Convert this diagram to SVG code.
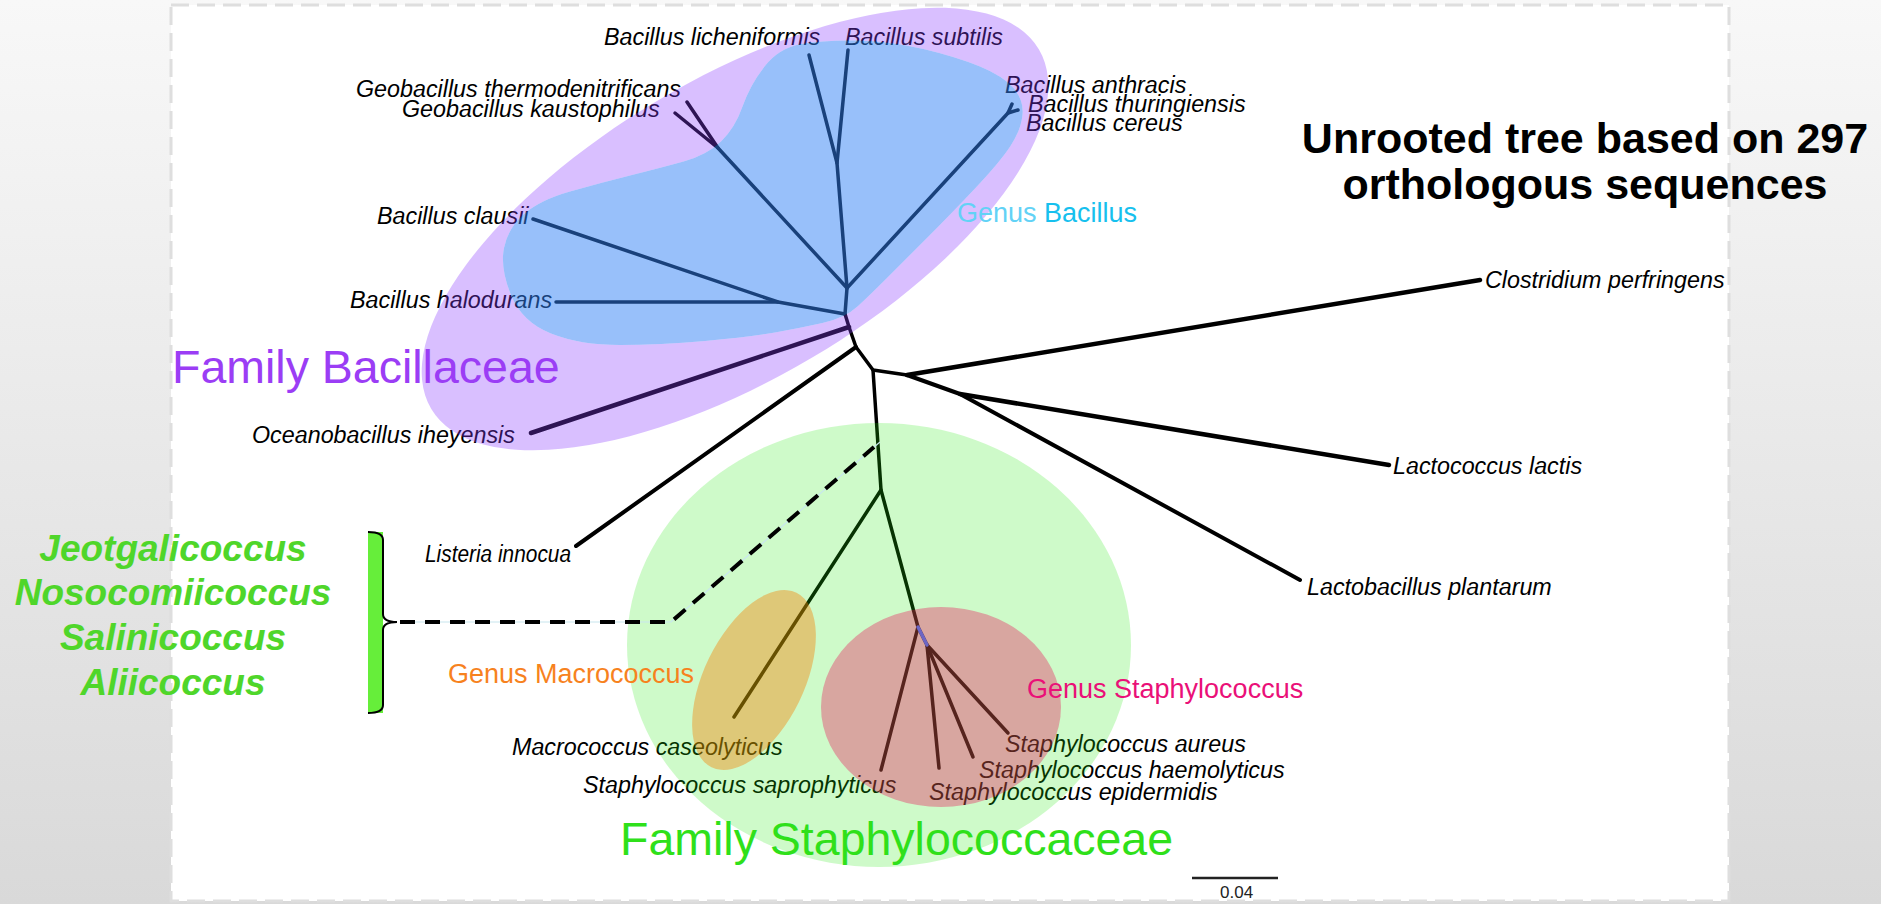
<svg xmlns="http://www.w3.org/2000/svg" width="1881" height="904" viewBox="0 0 1881 904">
<defs>
<linearGradient id="bg" x1="0" y1="0" x2="0" y2="1">
<stop offset="0" stop-color="#f8f8f8"/>
<stop offset="1" stop-color="#d9d9d9"/>
</linearGradient>
<path id="blueShape" d="M764.5,66.5 Q779,48 801,44 Q823,40 856.5,40.5 Q890,41 923.5,49 Q957,57 980,66.5 Q1003,76 1013.5,88 Q1024,100 1022.5,115 Q1021,130 1010.5,146 Q1000,162 975,188.5 Q950,215 926.5,238.5 Q903,262 886.5,278.5 Q870,295 857.5,306.5 Q845,318 822.5,323 Q800,328 775,332.5 Q750,337 705,341 Q660,345 620,345 Q580,345 551,333.5 Q522,322 511,295 Q500,268 504,248 Q508,228 524,214 Q540,200 570,191.5 Q600,183 630,175.5 Q660,168 683.5,161.5 Q707,155 721,141.5 Q735,128 742.5,106.5 Q750,85 764.5,66.5 Z"/>
<mask id="noBlue" maskUnits="userSpaceOnUse" x="0" y="0" width="1881" height="904">
<rect x="0" y="0" width="1881" height="904" fill="#fff"/>
<use href="#blueShape" fill="#000"/>
</mask>
<style>
.sp{font-family:"Liberation Sans",Arial,Helvetica,sans-serif;font-style:italic;font-size:23.3px;fill:#000}
.grp{font-family:"Liberation Sans",Arial,Helvetica,sans-serif;font-size:27px}
.fam{font-family:"Liberation Sans",Arial,Helvetica,sans-serif;font-size:46.5px}
.gen{font-family:"Liberation Sans",Arial,Helvetica,sans-serif;font-style:italic;font-weight:bold;font-size:37px;fill:#4fd62a;text-anchor:middle}
.ttl{font-family:"Liberation Sans",Arial,Helvetica,sans-serif;font-weight:bold;font-size:43px;fill:#000;text-anchor:middle}
.e{stroke:#000;stroke-width:3.5;fill:none;stroke-linecap:round;stroke-linejoin:round}
.t{stroke-width:4.5}
</style>
</defs>

<g id="background">
<rect x="0" y="0" width="1881" height="904" fill="url(#bg)"/>
<rect x="171" y="5" width="1558" height="896" fill="#fff" stroke="#dedede" stroke-width="3" stroke-dasharray="18 8"/>
</g>

<g id="connectors">
<polyline class="e" points="847,288 837,163 848,50"/>
<line class="e" x1="837" y1="163" x2="809" y2="55"/>
<polyline class="e" points="847,288 1008,113 1012,104"/>
<line class="e" x1="1008" y1="113" x2="1018" y2="110"/>
<polyline class="e" points="847,288 718,148 687,102"/>
<line class="e" x1="718" y1="148" x2="675" y2="113"/>
<polyline class="e" points="533,219 778,302 845,314"/>
<line class="e" x1="556" y1="302" x2="778" y2="302"/>
<polyline class="e" points="847,288 845,314 849,327 856,347 873,370 907,375"/>
<line class="e t" x1="849" y1="327" x2="531" y2="433"/>
<line class="e" x1="856" y1="347" x2="576" y2="546" style="stroke-width:4"/>
<line class="e t" x1="907" y1="375" x2="1480" y2="280"/>
<polyline class="e" points="907,375 960,394 1300,580" style="stroke-width:4"/>
<line class="e t" x1="960" y1="394" x2="1389" y2="465"/>
<polyline class="e" points="873,370 881,490 734,717"/>
<polyline class="e" points="881,490 918,627 881,770"/>
<line class="e" x1="918" y1="627" x2="927" y2="645"/>
<line class="e" x1="927" y1="645" x2="939" y2="768"/>
<line class="e" x1="927" y1="645" x2="973" y2="757"/>
<line class="e" x1="927" y1="645" x2="1008" y2="733"/>
</g>

<g id="taxa">
<g id="n-licheniformis"><text class="sp" x="604" y="45">Bacillus licheniformis</text></g>
<g id="n-subtilis"><text class="sp" x="845" y="45">Bacillus subtilis</text></g>
<g id="n-thermodenitrificans"><text class="sp" x="356" y="97">Geobacillus thermodenitrificans</text></g>
<g id="n-kaustophilus"><text class="sp" x="402" y="117">Geobacillus kaustophilus</text></g>
<g id="n-anthracis"><text class="sp" x="1005" y="93">Bacillus anthracis</text></g>
<g id="n-thuringiensis"><text class="sp" x="1028" y="112">Bacillus thuringiensis</text></g>
<g id="n-cereus"><text class="sp" x="1026" y="131">Bacillus cereus</text></g>
<g id="n-clausii"><text class="sp" x="377" y="224">Bacillus clausii</text></g>
<g id="n-halodurans"><text class="sp" x="350" y="308">Bacillus halodurans</text></g>
<g id="n-oceanobacillus"><text class="sp" x="252" y="443">Oceanobacillus iheyensis</text></g>
<g id="n-clostridium"><text class="sp" x="1485" y="288">Clostridium perfringens</text></g>
<g id="n-lactococcus"><text class="sp" x="1393" y="474">Lactococcus lactis</text></g>
<g id="n-lactobacillus"><text class="sp" x="1307" y="595">Lactobacillus plantarum</text></g>
<g id="n-listeria"><text class="sp" x="425" y="562" textLength="146" lengthAdjust="spacingAndGlyphs">Listeria innocua</text></g>
<g id="n-macrococcus"><text class="sp" x="512" y="755">Macrococcus caseolyticus</text></g>
<g id="n-saprophyticus"><text class="sp" x="583" y="793">Staphylococcus saprophyticus</text></g>
<g id="n-aureus"><text class="sp" x="1005" y="752">Staphylococcus aureus</text></g>
<g id="n-haemolyticus"><text class="sp" x="979" y="778">Staphylococcus haemolyticus</text></g>
<g id="n-epidermidis"><text class="sp" x="929" y="800">Staphylococcus epidermidis</text></g>
</g>

<g id="regions">
<g mask="url(#noBlue)">
<ellipse id="r-bacillaceae" cx="735" cy="229" rx="353" ry="150" transform="rotate(-30.6 735 229)" fill="rgb(140,60,255)" fill-opacity="0.33"/>
</g>
<use id="r-bacillus" href="#blueShape" fill="rgb(50,130,245)" fill-opacity="0.5"/>
<ellipse id="r-staphylococcaceae" cx="879" cy="645" rx="252" ry="222" fill="rgb(30,230,10)" fill-opacity="0.22"/>
<ellipse id="r-macrococcus" cx="754" cy="680" rx="97" ry="50" transform="rotate(-64 754 680)" fill="rgb(248,125,0)" fill-opacity="0.4"/>
<ellipse id="r-staphylococcus" cx="941" cy="707" rx="120" ry="100" fill="rgb(234,9,83)" fill-opacity="0.35"/>
<line x1="918" y1="627" x2="927" y2="645" stroke="#6c66c4" stroke-width="3.5" stroke-linecap="round"/>
</g>

<g id="group-labels">
<text class="grp" x="957" y="222"><tspan fill="#62d2f6">Genus</tspan><tspan fill="#16c0ee"> Bacillus</tspan></text>
<text class="fam" x="172" y="383" fill="#9b3df5">Family Bacillaceae</text>
<text class="grp" x="448" y="683" fill="#f7821e">Genus Macrococcus</text>
<text class="grp" x="1027" y="698" fill="#ea1078">Genus Staphylococcus</text>
<text class="fam" x="620" y="855" fill="#2fe01a">Family Staphylococcaceae</text>
</g>

<g id="placement">
<path d="M400,622 L671,622 L880,442" fill="none" stroke="#c8e6ee" stroke-width="1.2"/>
<path d="M400,622 L671,622 L874,447" fill="none" stroke="#000" stroke-width="4" stroke-dasharray="15 10"/>
</g>

<g id="bracket">
<rect x="368" y="532" width="15" height="181" fill="#66ee3a"/>
<path d="M368,532 Q383,532 383,540 L383,614 Q383,622 397,622 Q383,622 383,630 L383,705 Q383,713 368,713" fill="none" stroke="#000" stroke-width="2"/>
</g>

<g id="genera">
<text class="gen" x="173" y="561">Jeotgalicoccus</text>
<text class="gen" x="173" y="605">Nosocomiicoccus</text>
<text class="gen" x="173" y="650">Salinicoccus</text>
<text class="gen" x="173" y="695">Aliicoccus</text>
</g>

<g id="title">
<text class="ttl" x="1585" y="153">Unrooted tree based on 297</text>
<text class="ttl" x="1585" y="199">orthologous sequences</text>
</g>

<g id="scale">
<line x1="1192" y1="878" x2="1278" y2="878" stroke="#222" stroke-width="2.5"/>
<text x="1220" y="898" font-family="Liberation Sans, Arial, sans-serif" font-size="17" fill="#222">0.04</text>
</g>
</svg>
